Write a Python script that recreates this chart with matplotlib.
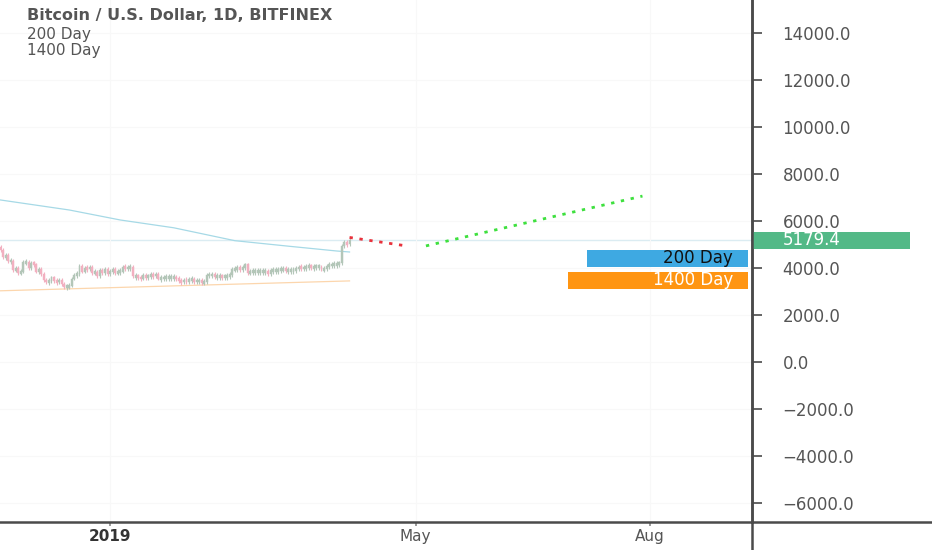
import numpy as np
import pandas as pd
import matplotlib.pyplot as plt
import matplotlib.dates as mdates
from matplotlib.patches import Rectangle
from matplotlib.lines import Line2D
import matplotlib.transforms as mtransforms

# Daily closes, BITFINEX BTC/USD, Nov 19 2018 - Apr 5 2019
first_open = 4900
closes = [
    # Nov 19-30
    4750, 4450, 4550, 4300, 4300, 3900, 4000, 3800, 3850, 4250, 4250, 4000,
    # Dec
    4200, 4150, 3850, 3950, 3750, 3500, 3400, 3450, 3600, 3450, 3400, 3500, 3300, 3200, 3200, 3250,
    3550, 3700, 3750, 4100, 3850, 4000, 3950, 4050, 3800, 3850, 3650, 3900, 3800, 3950, 3750,
    # Jan
    3850, 3950, 3800, 3850, 3850, 4050, 4000, 4000, 4050, 3650, 3650, 3600, 3550, 3700, 3600, 3650,
    3700, 3650, 3750, 3550, 3550, 3600, 3600, 3600, 3600, 3600, 3550, 3450, 3400, 3500, 3450,
    # Feb
    3500, 3500, 3450, 3450, 3450, 3400, 3400, 3700, 3700, 3700, 3650, 3650, 3650, 3600,
    3650, 3650, 3700, 3950, 3950, 4000, 3950, 4000, 4150, 3800, 3850, 3850, 3850, 3850,
    # Mar
    3850, 3850, 3850, 3750, 3900, 3900, 3900, 3900, 3950, 3950, 3900, 3900, 3900, 3900, 3950, 4050,
    4000, 4000, 4050, 4100, 4000, 4050, 4050, 4050, 3950, 3950, 4100, 4100, 4150, 4150, 4150,
    # Apr
    4200, 4950, 5100, 5000, 5179.4,
]
dates = pd.date_range('2018-11-19', periods=len(closes), freq='D')
opens = [first_open] + closes[:-1]

# moving averages
ma200_dates = pd.to_datetime(['2018-11-19', '2018-12-16', '2019-01-05', '2019-01-26',
                              '2019-02-19', '2019-03-12', '2019-03-31', '2019-04-05'])
ma200_vals = [6894, 6468, 6043, 5711, 5162, 4928, 4723, 4681]
ma1400_dates = pd.to_datetime(['2018-11-19', '2019-04-05'])
ma1400_vals = [3030, 3450]

# projection lines
red_dates = pd.to_datetime(['2019-04-05', '2019-04-28'])
red_vals = [5300, 4930]
green_dates = pd.to_datetime(['2019-05-05', '2019-07-29'])
green_vals = [4940, 7060]

last_price = 5179.4
yticks = [-6000, -4000, -2000, 0, 2000, 4000, 6000, 8000, 10000, 12000, 14000]

txt_color = '#555555'
axis_color = '#4a4a4a'

fig = plt.figure(figsize=(9.32, 5.5), dpi=100)
ax = fig.add_axes([0, 28 / 550, 752 / 932, 522 / 550])

# candles
up_col = '#b3c6b8'
down_col = '#f2b0c0'
for d, o, c in zip(dates, opens, closes):
    x = mdates.date2num(d)
    col = up_col if c >= o else down_col
    lo, hi = min(o, c), max(o, c)
    if hi - lo < 120:
        mid = (hi + lo) / 2
        lo, hi = mid - 60, mid + 60
    ax.vlines(x, lo - 80, hi + 80, color=col, lw=0.8, zorder=3)
    ax.add_patch(Rectangle((x - 0.38, lo), 0.76, hi - lo, facecolor=col,
                           edgecolor=col, lw=0.3, zorder=3))

ax.plot(ma200_dates, ma200_vals, color='#a6d9e6', lw=0.9, zorder=2)
ax.plot(ma1400_dates, ma1400_vals, color='#fcd6ad', lw=0.9, zorder=2)
ax.axhline(last_price, color='#dbecf2', lw=1.0, zorder=1)

ax.plot(red_dates, red_vals, color='#e8323c', lw=2.0, ls=(0, (1.2, 2.4)), zorder=4)
ax.plot(green_dates, green_vals, color='#3ee03e', lw=2.0, ls=(0, (1.2, 2.4)), zorder=4)

ax.set_xlim(mdates.date2num(pd.Timestamp('2018-11-18 19:00')),
            mdates.date2num(pd.Timestamp('2019-09-10')))
ax.set_ylim(-6809, 15404)

# axes styling
for s in ['top', 'left']:
    ax.spines[s].set_visible(False)
ax.spines['right'].set_color(axis_color)
ax.spines['right'].set_linewidth(1.8)
ax.spines['bottom'].set_color(axis_color)
ax.spines['bottom'].set_linewidth(1.8)
ax.yaxis.tick_right()
ax.set_yticks(yticks)
ax.set_yticklabels([f'{v:.1f}'.replace('-', '\u2212') for v in yticks])
ax.tick_params(axis='y', length=7, width=1.2, color=axis_color, pad=15,
               labelsize=12, labelcolor=txt_color)
xt = pd.to_datetime(['2019-01-01', '2019-05-01', '2019-08-01'])
ax.set_xticks(mdates.date2num(xt))
ax.set_xticklabels(['2019', 'May', 'Aug'])
ax.tick_params(axis='x', length=3, width=1.2, color='#888888', pad=2,
               labelsize=11, labelcolor=txt_color)
ax.get_xticklabels()[0].set_fontweight('bold')
ax.get_xticklabels()[0].set_color('#333333')
ax.grid(True, color='#f8f8f8', lw=0.8, zorder=0)

# extend the axis lines beyond the plotting area
fig.add_artist(Line2D([752 / 932, 752 / 932], [0, 1], color=axis_color, lw=1.8))
fig.add_artist(Line2D([752 / 932, 1], [28 / 550, 28 / 550], color=axis_color, lw=1.8))

# price labels on the scale
blend = mtransforms.blended_transform_factory(ax.transAxes, ax.transData)
ax.add_patch(Rectangle((1.0, last_price - 360), 158 / 752, 720, transform=blend,
                       facecolor='#53b987', edgecolor='none', clip_on=False, zorder=5))
ax.text(1.0 + 31 / 752, last_price, f'{last_price:.1f}', transform=blend, ha='left',
        va='center', color='white', fontsize=12, zorder=6, clip_on=False)

ax.add_patch(Rectangle((587 / 752, 4404 - 360), 161 / 752, 720, transform=blend,
                       facecolor='#3ea9e2', edgecolor='none', zorder=5))
ax.text(733 / 752, 4404, '200 Day', transform=blend, ha='right', va='center',
        color='#111111', fontsize=12, zorder=6)
ax.add_patch(Rectangle((568 / 752, 3468 - 360), 180 / 752, 720, transform=blend,
                       facecolor='#ff9512', edgecolor='none', zorder=5))
ax.text(733 / 752, 3468, '1400 Day', transform=blend, ha='right', va='center',
        color='white', fontsize=12, zorder=6)

# header
fig.text(27 / 932, 1 - 16 / 550, 'Bitcoin / U.S. Dollar, 1D, BITFINEX', ha='left', va='center',
         fontsize=11.5, fontweight='bold', color=txt_color)
fig.text(27 / 932, 1 - 34 / 550, '200 Day', ha='left', va='center', fontsize=11, color=txt_color)
fig.text(27 / 932, 1 - 51 / 550, '1400 Day', ha='left', va='center', fontsize=11, color=txt_color)

fig.savefig('out.png', dpi=100)
